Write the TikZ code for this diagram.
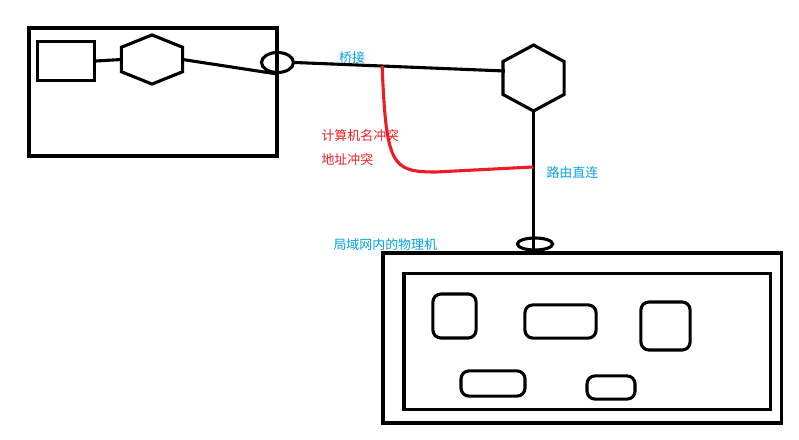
\documentclass[tikz,border=0pt]{standalone}
\usepackage{fontspec}
\setmainfont{Noto Sans CJK SC}
\usepackage{xcolor}
\usetikzlibrary{calc,shapes.geometric}

\definecolor{linkblue}{RGB}{0,162,232}
\definecolor{clashred}{RGB}{237,28,36}

\tikzset{
    box/.style={draw, line width=2.2pt, inner sep=0pt},
    hostbox/.style={box, rounded corners=0.2cm},
    hexbox/.style={inner sep=0pt},
    port/.style={draw, ellipse, line width=2.2pt, inner sep=0pt},
    note/.style={inner sep=0pt, anchor=west},
}

\begin{document}
\begin{tikzpicture}[x=0.025cm, y=-0.025cm, line width=2.2pt, font=\fontsize{9.2pt}{11pt}\selectfont]
    \useasboundingbox (0,0) rectangle (799,439);
    \node[box, minimum width=6.2cm, minimum height=3.2cm] (vm) at (153,92) {};
    \node[box, minimum width=1.42cm, minimum height=0.97cm] (pc) at (66,61) {};
    \node[hexbox, minimum width=1.45cm, minimum height=1.15cm] (hexL) at (152,59.5) {};
    \draw (hexL.north) -- ($(hexL.north east)!0.25!(hexL.south east)$) -- ($(hexL.north east)!0.75!(hexL.south east)$)
        -- (hexL.south) -- ($(hexL.north west)!0.75!(hexL.south west)$) -- ($(hexL.north west)!0.25!(hexL.south west)$) -- cycle;
    \node[port, minimum width=0.8cm, minimum height=0.5cm] (port1) at (277.5,62.5) {};
    \node[hexbox, minimum width=1.45cm, minimum height=1.57cm] (hexR) at (533.5,78) {};
    \draw (hexR.north) -- ($(hexR.north east)!0.25!(hexR.south east)$) -- ($(hexR.north east)!0.75!(hexR.south east)$)
        -- (hexR.south) -- ($(hexR.north west)!0.75!(hexR.south west)$) -- ($(hexR.north west)!0.25!(hexR.south west)$) -- cycle;
    \node[box, minimum width=9.95cm, minimum height=4.25cm] (lan) at (582,338) {};
    \node[box, minimum width=9.15cm, minimum height=3.38cm] (lanIn) at (587,341.5) {};
    \node[port, minimum width=0.88cm, minimum height=0.3cm] (port2) at (535,244) {};
    \foreach \n/\x/\y/\w/\h in {1/454.5/316/1.08/1.1, 2/560.5/321.5/1.78/0.83, 3/665.5/326/1.23/1.2,
                                4/493/383.5/1.6/0.63, 5/611/387.5/1.2/0.58} {
        \node[hostbox, minimum width=\w cm, minimum height=\h cm] (host\n) at (\x,\y) {};
    }
    \coordinate (bridgeEnd) at ($(hexR.west)+(2,-7)$);
    \draw (pc.east) -- (hexL.west);
    \draw (hexL.east) -- (port1.south);
    \draw (port1.east) -- (bridgeEnd);
    \draw (hexR.south) -- (hexR.south |- lan.north);
    \coordinate (clashTop) at ($(port1.east)!0.415!(bridgeEnd)$);
    \coordinate (clashBend) at (436,172);
    \coordinate (clashEnd) at ($(hexR.south)+(0,56)$);
    \draw[clashred] (clashTop) .. controls ($(clashTop)+(4,100)$) and ($(clashBend)+(-44,0)$) .. (clashBend) -- (clashEnd);
    \node[text=linkblue] (bridgeLbl) at (352,58) {桥接};
    \node[note, text=clashred] (nameLbl) at (320,136) {计算机名冲突};
    \node[note, text=clashred] (addrLbl) at (320,160) {地址冲突};
    \node[note, text=linkblue] (routeLbl) at (545,173) {路由直连};
    \node[note, text=linkblue] (hostLbl) at (332,245) {局域网内的物理机};
\end{tikzpicture}
\end{document}
